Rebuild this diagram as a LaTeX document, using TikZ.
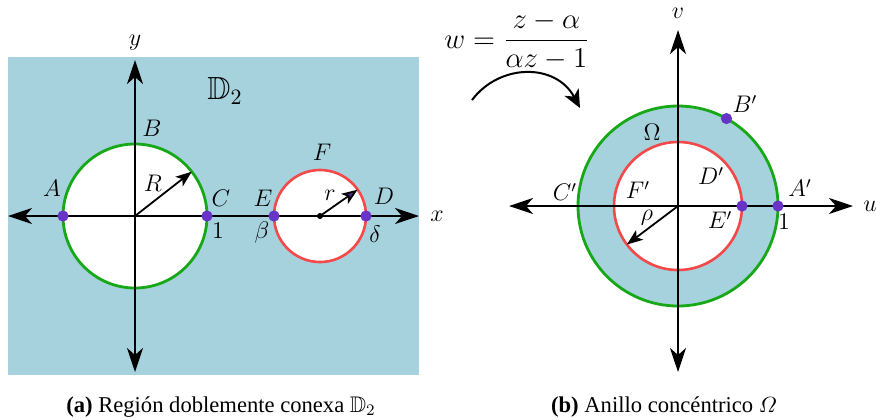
\documentclass[tikz,border=0pt]{standalone}
\usepackage{amsmath,amssymb}
\usepackage{fontspec}
\newfontfamily\capfont{Liberation Serif}
\usetikzlibrary{arrows.meta,calc}
\definecolor{bgblue}{RGB}{166,210,222}
\definecolor{cgreen}{RGB}{22,168,22}
\definecolor{cred}{RGB}{245,72,72}
\definecolor{cpurple}{RGB}{104,52,200}
\begin{document}
\begin{tikzpicture}[x=0.5pt,y=-0.5pt,
  axis/.style={line width=1.2pt,{Stealth[length=12pt,width=8pt,inset=3.5pt]}-{Stealth[length=12pt,width=8pt,inset=3.5pt]}},
  radarrow/.style={line width=0.9pt,-{Stealth[length=8pt,width=6pt,inset=2pt]}},
  bigcircle/.style={line width=1.4pt,draw=cgreen},
  smallcircle/.style={line width=1.3pt,draw=cred},
  pt/.style={circle,fill=cpurple,inner sep=0pt,minimum size=5.6pt},
  lbl/.style={inner sep=0pt,font=\fontsize{11.5}{13}\selectfont},
  capt/.style={anchor=base,inner sep=0pt,font=\capfont\fontsize{11.3}{13}\selectfont}]
\useasboundingbox (0,0) rectangle (876,419);
% ---------- left panel ----------
\fill[bgblue] (8,57) rectangle (419,375);
\coordinate (O1) at (135,216);
\coordinate (O2) at (320,216);
\draw[bigcircle,fill=white] (O1) circle[radius=36pt];
\draw[smallcircle,fill=white] (O2) circle[radius=23pt];
\coordinate (xl) at (8,216);
\coordinate (xr) at (419,216);
\coordinate (yt) at (135,60);
\coordinate (yb) at (135,372);
\draw[axis] (xl) -- (xr);
\draw[axis] (yb) -- (yt);
\coordinate (Rend) at ($(O1)+(38:36pt)$);
\coordinate (rend) at ($(O2)+(35:23pt)$);
\draw[radarrow] (O1) -- (Rend);
\draw[line width=0.9pt,-{Stealth[length=8pt,width=6pt,inset=2pt,fill=cpurple!75!black]}] (O2) -- (rend);
\node[circle,fill=black,inner sep=0pt,minimum size=3pt] (c2) at (O2) {};
\node[pt] (pA) at (63,216) {};
\node[pt] (pC) at (207,216) {};
\node[pt] (pE) at (274,216) {};
\node[pt] (pD) at (366,216) {};
\node[lbl] (ly) at (135,43) {$y$};
\node[inner sep=0pt,font=\fontsize{16}{18}\selectfont] (lD2) at (225,91) {$\mathbb{D}_2$};
\node[lbl] (lB) at (152,128) {$B$};
\node[lbl] (lA) at (52,188) {$A$};
\node[lbl] (lR) at (153,183) {$R$};
\node[lbl] (lC) at (221,198) {$C$};
\node[lbl] (l1) at (218,231) {$1$};
\node[lbl] (lE) at (263,198) {$E$};
\node[lbl] (lbeta) at (262,232) {$\beta$};
\node[lbl] (lF) at (322,152) {$F$};
\node[lbl] (lr) at (330,195) {$r$};
\node[lbl] (lDD) at (384,196) {$D$};
\node[lbl] (ldelta) at (375,234) {$\delta$};
\node[lbl] (lx) at (437,216) {$x$};
% ---------- right panel ----------
\coordinate (O3) at (678,206);
\draw[bigcircle,fill=bgblue] (O3) circle[radius=50pt];
\draw[smallcircle,fill=white] (O3) circle[radius=32pt];
\coordinate (ul) at (509,206);
\coordinate (ur) at (853,206);
\coordinate (vt) at (678,30);
\coordinate (vb) at (678,372);
\draw[axis] (ul) -- (ur);
\draw[axis] (vb) -- (vt);
\coordinate (rhoend) at ($(O3)+(217:32pt)$);
\draw[radarrow] (O3) -- (rhoend);
\node[pt] (pEp) at ($(O3)+(0:32pt)$) {};
\node[pt] (pAp) at ($(O3)+(0:50pt)$) {};
\node[pt] (pBp) at ($(O3)+(61:50pt)$) {};
\node[lbl] (lv) at (678,13) {$v$};
\node[inner sep=0pt,font=\fontsize{13}{15}\selectfont] (lOmega) at (652,132) {$\Omega$};
\node[lbl] (lBp) at (745,104) {$B'$};
\node[lbl] (lDp) at (711,176) {$D'$};
\node[lbl] (lFp) at (638,190) {$F'$};
\node[lbl] (lCp) at (565,192) {$C'$};
\node[lbl] (lAp) at (800,188) {$A'$};
\node[lbl] (lEp) at (720,220) {$E'$};
\node[lbl] (l1p) at (784,222) {$1$};
\node[lbl] (lrho) at (647,218) {$\rho$};
\node[lbl] (lu) at (870,206) {$u$};
% ---------- map ----------
\node[inner sep=0pt,font=\fontsize{14.5}{17}\selectfont] (map) at (517,41) {$w=\dfrac{z-\alpha}{\alpha z-1}$};
\coordinate (ms) at (472,100);
\coordinate (me) at (580,108);
\draw[line width=1pt,-{Stealth[length=9pt,width=8pt,inset=2.5pt]}] (ms) .. controls (500,63) and (556,63) .. (me);
% ---------- captions ----------
\node[capt] (capa) at (221,412) {\textbf{(a)} Región doblemente conexa $\mathbb{D}_2$};
\node[capt] (capb) at (664,412) {\textbf{(b)} Anillo concéntrico $\varOmega$};
\end{tikzpicture}
\end{document}
